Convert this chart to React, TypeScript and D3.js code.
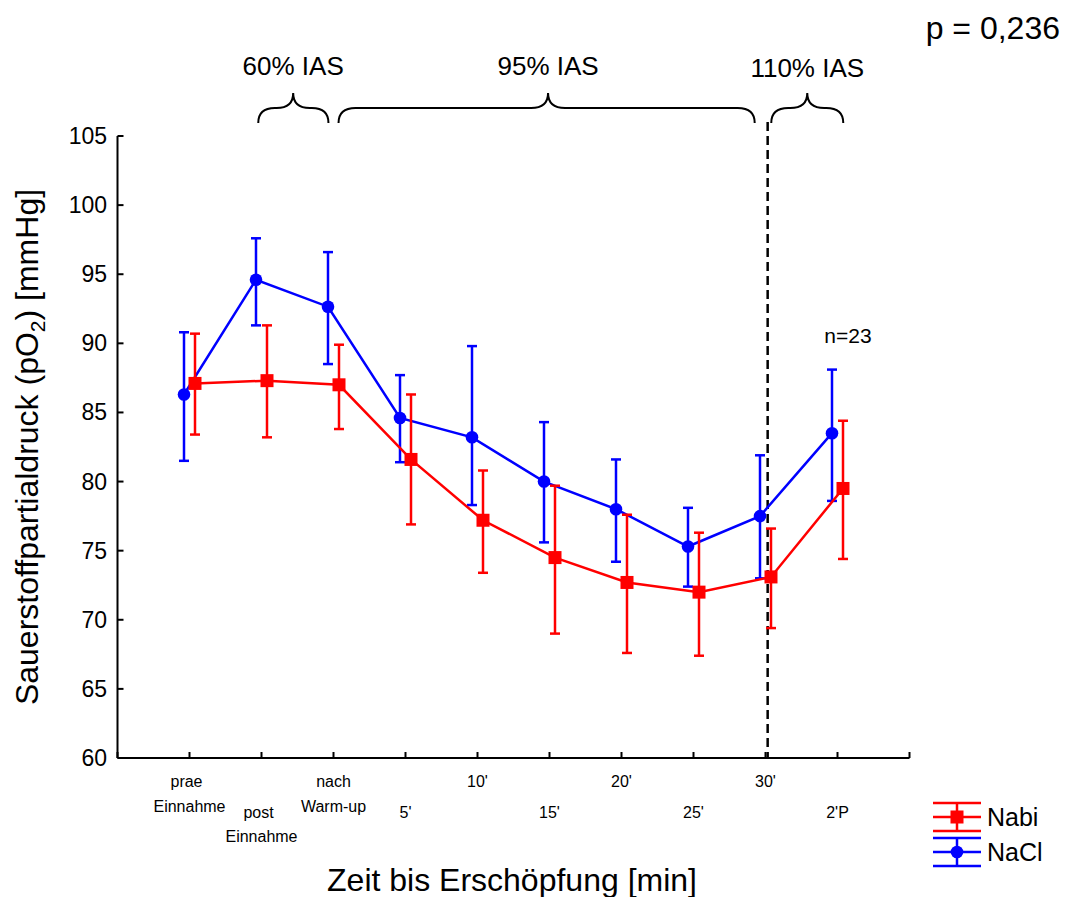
import React from "react";
import * as d3 from "d3";

const categories = [
  ["prae", "Einnahme"],
  ["post", "Einnahme"],
  ["nach", "Warm-up"],
  ["5'"],
  ["10'"],
  ["15'"],
  ["20'"],
  ["25'"],
  ["30'"],
  ["2'P"],
];
const nabiMean = [87.1, 87.3, 87.0, 81.6, 77.2, 74.5, 72.7, 72.0, 73.1, 79.5];
const nabiUpper = [90.7, 91.3, 89.9, 86.3, 80.8, 79.7, 77.6, 76.3, 76.6, 84.4];
const nabiLower = [83.4, 83.2, 83.8, 76.9, 73.4, 69.0, 67.6, 67.4, 69.4, 74.4];
const naclMean = [86.3, 94.6, 92.65, 84.6, 83.2, 80.0, 78.0, 75.3, 77.5, 83.5];
const naclUpper = [90.8, 97.6, 96.6, 87.7, 89.8, 84.3, 81.6, 78.1, 81.9, 88.1];
const naclLower = [81.5, 91.3, 88.5, 81.4, 78.3, 75.6, 74.2, 72.4, 73.0, 78.6];
const yTicks = [60, 65, 70, 75, 80, 85, 90, 95, 100, 105];
const phaseLabels = ["60% IAS", "95% IAS", "110% IAS"];
const phaseStart = [0.955, 2.07, 8.08];
const phaseEnd = [1.93, 7.85, 9.08];
const phasePeak = [1.44, 4.98, 8.58];
const exhaustionIndex = 8.03;
const pText = "p = 0,236";
const nText = "n=23";

const FONT = "Liberation Sans, Arial, sans-serif";

export default function App() {
  const x = d3.scaleLinear().domain([-1, 10]).range([117.5, 909.5]);
  const y = d3.scaleLinear().domain([60, 105]).range([758, 136]);
  const idx = categories.map((_, i) => i);
  const xTickIdx = d3.range(-1, 11);

  const series = [
    { name: "NaCl", color: "#0000ff", mean: naclMean, up: naclUpper, lo: naclLower, dx: -5.5, shape: "circle" },
    { name: "Nabi", color: "#ff0000", mean: nabiMean, up: nabiUpper, lo: nabiLower, dx: 5.5, shape: "square" },
  ];

  const brace = (x1: number, xm: number, x2: number, yb: number, ym: number, yt: number) => {
    const r = Math.min(17, (xm - x1) / 2.1, (x2 - xm) / 2.1);
    return `M${x1},${yb} Q${x1},${ym} ${x1 + r},${ym} L${xm - r},${ym} Q${xm},${ym} ${xm},${yt} Q${xm},${ym} ${xm + r},${ym} L${x2 - r},${ym} Q${x2},${ym} ${x2},${yb}`;
  };

  return (
    <svg
      width={1067}
      height={897}
      style={{ position: "absolute", left: 0, top: 0, background: "#fff" }}
      fontFamily={FONT}
    >
      {/* p value */}
      <text x={1060} y={39} fontSize={32} textAnchor="end" fill="#000">{pText}</text>

      {/* phase braces */}
      {phaseLabels.map((lab, i) => (
        <g key={lab}>
          <text x={x(phasePeak[i])} y={i === 2 ? 77 : 75} fontSize={26} textAnchor="middle" fill="#000">{lab}</text>
          <path
            d={brace(x(phaseStart[i]), x(phasePeak[i]), x(phaseEnd[i]), 123, 108, 93)}
            fill="none"
            stroke="#000"
            strokeWidth={2}
          />
        </g>
      ))}

      {/* dashed exhaustion line */}
      <line x1={x(exhaustionIndex)} x2={x(exhaustionIndex)} y1={122} y2={y(60)} stroke="#000" strokeWidth={2.5} strokeDasharray="9,5" />

      {/* axes */}
      <line x1={x(-1)} x2={x(-1)} y1={y(105)} y2={y(60)} stroke="#000" strokeWidth={2} />
      <line x1={x(-1)} x2={x(10)} y1={y(60)} y2={y(60)} stroke="#000" strokeWidth={2} />
      {yTicks.map((t) => (
        <g key={t}>
          <line x1={x(-1)} x2={x(-1) + 6} y1={y(t)} y2={y(t)} stroke="#000" strokeWidth={2} />
          <text x={107} y={y(t) + 8} fontSize={23} textAnchor="end" fill="#000">{t}</text>
        </g>
      ))}
      {xTickIdx.map((t) => (
        <line key={t} x1={x(t)} x2={x(t)} y1={y(60)} y2={y(60) - 6} stroke="#000" strokeWidth={2} />
      ))}
      {categories.map((lines, i) => {
        const base = i % 2 === 0 ? [787, 812] : [818, 842];
        return (
          <text key={i} x={x(i)} fontSize={16} textAnchor="middle" fill="#000">
            {lines.map((l, j) => (
              <tspan key={j} x={x(i) - (i === 0 && j === 0 ? 3 : 0) - (i === 1 && j === 0 ? 3 : 0)} y={base[j]}>{l}</tspan>
            ))}
          </text>
        );
      })}

      {/* axis titles */}
      <text x={512} y={891} fontSize={32} textAnchor="middle" fill="#000">Zeit bis Erschöpfung [min]</text>
      <text transform="translate(38,447) rotate(-90)" fontSize={32} textAnchor="middle" fill="#000">
        Sauerstoffpartialdruck (pO<tspan fontSize={21} dy={7}>2</tspan><tspan dy={-7}>) [mmHg]</tspan>
      </text>

      {/* n label */}
      <text x={848} y={343} fontSize={21} textAnchor="middle" fill="#000">{nText}</text>

      {/* series */}
      {series.map((s) => {
        const line = d3
          .line<number>()
          .x((i) => x(i) + s.dx)
          .y((i) => y(s.mean[i]));
        return (
          <g key={s.name}>
            <path d={line(idx) || ""} fill="none" stroke={s.color} strokeWidth={2.5} />
            {idx.map((i) => {
              const cx = x(i) + s.dx;
              return (
                <g key={i} stroke={s.color} strokeWidth={2.5}>
                  <line x1={cx} x2={cx} y1={y(s.up[i])} y2={y(s.lo[i])} />
                  <line x1={cx - 5} x2={cx + 5} y1={y(s.up[i])} y2={y(s.up[i])} />
                  <line x1={cx - 5} x2={cx + 5} y1={y(s.lo[i])} y2={y(s.lo[i])} />
                </g>
              );
            })}
            {idx.map((i) => {
              const cx = x(i) + s.dx;
              const cy = y(s.mean[i]);
              return s.shape === "circle" ? (
                <circle key={i} cx={cx} cy={cy} r={6.3} fill={s.color} />
              ) : (
                <rect key={i} x={cx - 6.5} y={cy - 6.5} width={13} height={13} fill={s.color} />
              );
            })}
          </g>
        );
      })}

      {/* legend */}
      {series
        .slice()
        .reverse()
        .map((s, k) => {
          const cy = 817 + k * 35;
          return (
            <g key={s.name}>
              <g stroke={s.color} strokeWidth={2.5}>
                <line x1={933} x2={981} y1={cy - 14} y2={cy - 14} />
                <line x1={933} x2={981} y1={cy} y2={cy} />
                <line x1={933} x2={981} y1={cy + 14} y2={cy + 14} />
                <line x1={957} x2={957} y1={cy - 14} y2={cy + 14} />
              </g>
              {s.shape === "circle" ? (
                <circle cx={957} cy={cy} r={6.3} fill={s.color} />
              ) : (
                <rect x={957 - 6.5} y={cy - 6.5} width={13} height={13} fill={s.color} />
              )}
              <text x={987} y={cy + 9} fontSize={25} fill="#000">{s.name}</text>
            </g>
          );
        })}
    </svg>
  );
}
